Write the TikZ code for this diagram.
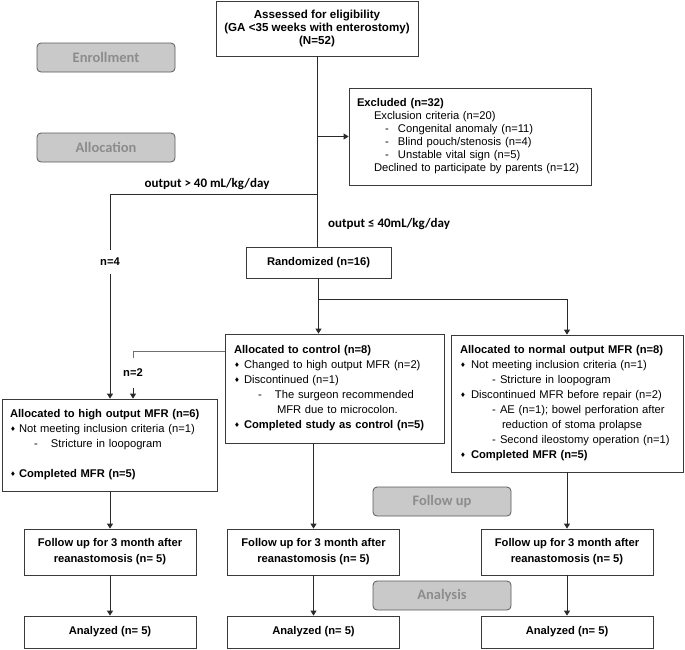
\documentclass[tikz,border=0pt]{standalone}
\usepackage{fontspec}
\setmainfont{Liberation Sans}
\newfontfamily\calfont{Carlito}
\newfontfamily\symfont{DejaVu Sans}
\usetikzlibrary{arrows.meta}
\definecolor{boxline}{HTML}{3A3A3A}
\definecolor{stagefill}{HTML}{C9C9C9}
\definecolor{stageline}{HTML}{5A5A5A}
\definecolor{stagetext}{HTML}{8C8C8C}
\definecolor{wirecol}{HTML}{2A2A2A}
\definecolor{softwire}{HTML}{707070}
% diamond bullet and dash for the list boxes
\newcommand{\dmd}[1]{\makebox[#1pt][l]{\symfont\fontsize{6.5}{6.5}\selectfont\raisebox{1pt}{♦}}}
\newcommand{\dsh}[2]{\hspace*{#1pt}\makebox[#2pt][l]{-}}
\tikzset{
  box/.style={draw=boxline, line width=0.8pt, fill=white, inner sep=0pt, align=center,
    font=\fontsize{11.2}{13}\selectfont\bfseries},
  listbox/.style={draw=boxline, line width=0.8pt, fill=white, inner ysep=0pt, align=left,
    font=\fontsize{11.2}{15}\selectfont},
  stage/.style={draw=stageline, fill=stagefill, rounded corners=4pt, line width=0.8pt,
    minimum width=138pt, minimum height=29pt, inner sep=0pt, text=stagetext,
    font=\calfont\fontsize{14.5}{14.5}\selectfont\bfseries},
  wire/.style={draw=wirecol, line width=0.9pt},
  arr/.style={wire, -{Triangle[width=6pt,length=5pt]}},
  outlbl/.style={font=\calfont\fontsize{13}{13}\selectfont\bfseries, inner sep=0pt},
  nlbl/.style={font=\fontsize{11.2}{13}\selectfont\bfseries, fill=white, inner xsep=1pt}
}
\begin{document}
\begin{tikzpicture}[x=1pt, y=-1pt]
\useasboundingbox (0,0) rectangle (685,649);

% stages
\node[stage] (enroll) at (106,57.5) {Enrollment};
\node[stage] (alloc) at (106,147.5) {Allocation};
\node[stage] (fup) at (442,501.5) {Follow up};
\node[stage] (anal) at (442,595.5) {Analysis};

% top part
\node[box, minimum width=202pt, minimum height=55pt, font=\fontsize{11.6}{13}\selectfont\bfseries] (assess) at (317,28.5)
  {Assessed for eligibility\\(GA <35 weeks with enterostomy)\\(N=52)};
\node[listbox, text width=226pt, inner xsep=8pt, minimum height=97pt, font=\fontsize{11.2}{13}\selectfont] (excl) at (470,136.5)
  {\textbf{Excluded (n=32)}\\
   \hspace*{17pt}Exclusion criteria (n=20)\\
   \dsh{28}{13}Congenital anomaly (n=11)\\
   \dsh{28}{13}Blind pouch/stenosis (n=4)\\
   \dsh{28}{13}Unstable vital sign (n=5)\\
   \hspace*{17pt}Declined to participate by parents (n=12)};
\node[box, minimum width=145pt, minimum height=31pt] (rand) at (318.5,262.5) {Randomized (n=16)};

\node[outlbl] (gtlbl) at (207,184) {output > 40 mL/kg/day};
\node[outlbl, anchor=west] (lelbl) at (328,224) {output ≤ 40mL/kg/day};

% allocation boxes
\node[listbox, text width=199pt, inner xsep=8pt, minimum height=92pt] (high) at (109.5,445)
  {\textbf{Allocated to high output MFR (n=6)}\\
   \dmd{9}Not meeting inclusion criteria (n=1)\\
   \dsh{24}{17}Stricture in loopogram\\[15pt]
   \dmd{9}\textbf{Completed MFR (n=5)}};
\node[listbox, text width=201pt, inner xsep=9pt, minimum height=109pt] (ctrl) at (334.5,388.5)
  {\textbf{Allocated to control (n=8)}\\
   \dmd{10}Changed to high output MFR (n=2)\\
   \dmd{10}Discontinued (n=1)\\
   \dsh{24}{17}The surgeon recommended\\
   \hspace*{43pt}MFR due to microcolon.\\
   \dmd{10}\textbf{Completed study as control (n=5)}};
\node[listbox, text width=214pt, inner xsep=9pt, minimum height=137pt] (normal) at (567,403.5)
  {\textbf{Allocated to normal output MFR (n=8)}\\
   \dmd{11}Not meeting inclusion criteria (n=1)\\
   \dsh{32}{8}Stricture in loopogram\\
   \dmd{11}Discontinued MFR before repair (n=2)\\
   \dsh{32}{8}AE (n=1); bowel perforation after\\
   \hspace*{42pt}reduction of stoma prolapse\\
   \dsh{32}{8}Second ileostomy operation (n=1)\\
   \dmd{11}\textbf{Completed MFR (n=5)}};

% follow up and analysis
\node[box, minimum width=172pt, minimum height=46pt, font=\fontsize{11.2}{16}\selectfont\bfseries] (fleft) at (110,552)
  {Follow up for 3 month after\\reanastomosis (n= 5)};
\node[box, minimum width=172pt, minimum height=46pt, font=\fontsize{11.2}{16}\selectfont\bfseries] (fmid) at (313.5,552)
  {Follow up for 3 month after\\reanastomosis (n= 5)};
\node[box, minimum width=172pt, minimum height=46pt, font=\fontsize{11.2}{16}\selectfont\bfseries] (fright) at (567,552)
  {Follow up for 3 month after\\reanastomosis (n= 5)};
\node[box, minimum width=172pt, minimum height=32pt] (aleft) at (110,632) {Analyzed (n= 5)};
\node[box, minimum width=172pt, minimum height=32pt] (amid) at (313.5,632) {Analyzed (n= 5)};
\node[box, minimum width=172pt, minimum height=32pt] (aright) at (567,632) {Analyzed (n= 5)};

% connectors
\coordinate (split) at (317,194);
\coordinate (fork) at (318.5,299);
\node[nlbl, inner ysep=8pt] (n4) at (110,262) {n=4};
\node[nlbl, inner ysep=11pt] (n2) at (133,373) {n=2};

\draw[wire] (assess.south) -- (assess.south |- rand.north);
\draw[arr] (assess.south |- excl.west) -- (excl.west);
\draw[wire] (split) -| (n4.north);
\draw[arr] (n4.south) -- (n4.south |- high.north);
\draw[arr] (rand.south) -- (rand.south |- ctrl.north);
\draw[arr] (fork) -| (normal.north);
\draw[wire, draw=softwire] (ctrl.west |- 0,351) -| (n2.north);
\draw[arr] (n2.south) -- (n2.south |- high.north);

\draw[arr] (high.south -| fleft.north) -- (fleft.north);
\draw[arr] (ctrl.south -| fmid.north) -- (fmid.north);
\draw[arr] (normal.south) -- (fright.north);
\draw[arr] (fleft.south) -- (aleft.north);
\draw[arr] (fmid.south) -- (amid.north);
\draw[arr] (fright.south) -- (aright.north);
\end{tikzpicture}
\end{document}
